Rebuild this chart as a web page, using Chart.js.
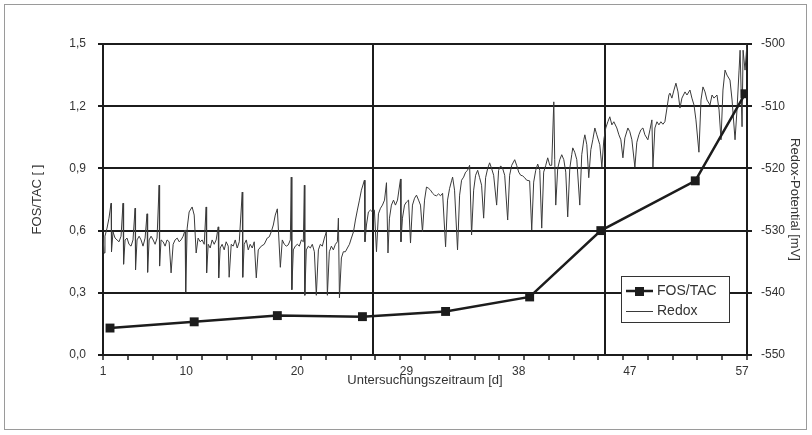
<!DOCTYPE html>
<html>
<head>
<meta charset="utf-8">
<script src="https://cdn.jsdelivr.net/npm/chart.js@4.4.0/dist/chart.umd.min.js"></script>
<style>
  html, body { margin: 0; padding: 0; background: #fff; }
  #wrap { width: 812px; height: 435px; position: relative; }
</style>
</head>
<body>
<div id="wrap"><canvas id="chart" width="812" height="435"></canvas></div>
<script>
// FOS/TAC Messwerte (linke Achse)
const fosTacDays = [1.61, 8.93, 16.16, 23.56, 30.79, 38.10, 44.29, 52.50, 56.83];
const fosTacValues = [0.13, 0.16, 0.19, 0.185, 0.21, 0.28, 0.60, 0.84, 1.26];

// Redox-Potential (rechte Achse)
const redoxDays = [
  1.00, 1.09, 1.17, 1.35, 1.52, 1.70, 1.74, 1.87, 2.05, 2.22, 2.39, 2.57, 2.74, 2.79, 2.92, 3.09, 3.26, 3.44, 3.61, 3.79,
  3.83, 3.96, 4.14, 4.31, 4.48, 4.66, 4.83, 4.88, 5.01, 5.18, 5.36, 5.53, 5.70, 5.88, 5.92, 6.05, 6.23, 6.40, 6.57, 6.75,
  6.92, 7.10, 7.27, 7.45, 7.62, 7.79, 7.97, 8.14, 8.19, 8.32, 8.49, 8.75, 8.93, 9.10, 9.27, 9.45, 9.62, 9.80, 9.97, 10.01,
  10.15, 10.32, 10.49, 10.67, 10.84, 11.02, 11.06, 11.19, 11.36, 11.54, 11.71, 11.89, 11.97, 12.15, 12.32, 12.50, 12.67, 12.85, 13.11, 13.15,
  13.28, 13.46, 13.63, 13.80, 13.98, 14.15, 14.33, 14.50, 14.76, 15.02, 15.28, 15.46, 15.63, 15.81, 15.98, 16.16, 16.42, 16.59, 16.77, 16.94,
  17.11, 17.29, 17.37, 17.42, 17.55, 17.72, 17.90, 18.07, 18.25, 18.42, 18.51, 18.55, 18.68, 18.86, 19.03, 19.20, 19.38, 19.55, 19.73, 19.90,
  20.07, 20.25, 20.42, 20.51, 20.68, 20.86, 21.03, 21.21, 21.38, 21.47, 21.56, 21.73, 21.90, 22.08, 22.25, 22.43, 22.60, 22.78, 22.95, 23.12,
  23.30, 23.47, 23.73, 23.78, 23.91, 24.08, 24.26, 24.43, 24.60, 24.78, 24.95, 25.13, 25.30, 25.48, 25.65, 25.78, 25.91, 26.08, 26.26, 26.43,
  26.61, 26.87, 26.91, 27.04, 27.22, 27.39, 27.57, 27.74, 27.91, 28.09, 28.26, 28.44, 28.61, 28.78, 28.96, 29.13, 29.31, 29.48, 29.66, 29.83,
  30.00, 30.18, 30.35, 30.53, 30.79, 30.96, 31.14, 31.31, 31.40, 31.57, 31.83, 32.01, 32.18, 32.36, 32.53, 32.70, 32.88, 33.05, 33.23, 33.40,
  33.58, 33.75, 33.92, 34.10, 34.27, 34.45, 34.62, 34.79, 34.97, 35.23, 35.40, 35.58, 35.75, 35.93, 36.19, 36.36, 36.54, 36.80, 36.97, 37.15,
  37.32, 37.49, 37.67, 37.84, 38.10, 38.28, 38.45, 38.63, 38.80, 38.98, 39.15, 39.32, 39.50, 39.67, 39.85, 40.02, 40.20, 40.28, 40.37, 40.54,
  40.72, 40.89, 41.07, 41.24, 41.41, 41.59, 41.76, 41.85, 42.02, 42.20, 42.46, 42.63, 42.81, 42.90, 43.07, 43.24, 43.42, 43.59, 43.77, 43.94,
  44.20, 44.38, 44.55, 44.72, 44.90, 45.07, 45.25, 45.42, 45.68, 45.86, 46.03, 46.21, 46.38, 46.64, 46.81, 46.99, 47.25, 47.42, 47.60, 47.77,
  47.95, 48.12, 48.38, 48.56, 48.73, 48.82, 48.99, 49.17, 49.34, 49.51, 49.69, 49.86, 50.04, 50.21, 50.30, 50.47, 50.65, 50.82, 51.00, 51.17,
  51.34, 51.61, 51.78, 52.04, 52.21, 52.39, 52.56, 52.82, 53.00, 53.17, 53.35, 53.52, 53.78, 53.96, 54.13, 54.39, 54.57, 54.74, 54.91, 55.09,
  55.26, 55.52, 55.70, 55.96, 56.13, 56.31, 56.40, 56.57, 56.66, 56.83, 57.00
];
const redoxMv = [
  -531.0, -533.6, -530.9, -529.6, -528.0, -525.6, -533.4, -530.2, -531.2, -531.5, -531.8, -530.9, -525.6, -535.4, -531.5, -531.2, -532.2, -532.5, -531.5, -526.4,
  -536.3, -531.5, -530.9, -531.5, -532.5, -531.2, -527.3, -536.7, -531.5, -530.9, -531.5, -532.2, -531.2, -522.7, -535.7, -531.5, -531.8, -532.5, -531.5, -531.8,
  -536.8, -532.2, -531.5, -531.2, -531.8, -531.5, -530.9, -529.9, -539.9, -529.6, -527.0, -526.2, -527.5, -533.6, -531.2, -531.8, -531.5, -532.2, -526.2, -536.8,
  -532.2, -532.8, -531.5, -532.2, -531.5, -529.4, -537.6, -532.8, -532.2, -533.1, -531.8, -532.5, -537.5, -532.2, -532.5, -531.5, -532.8, -531.8, -523.8, -537.5,
  -532.2, -531.5, -533.1, -532.2, -532.8, -531.8, -537.6, -533.1, -532.5, -532.2, -531.2, -531.0, -530.2, -529.1, -527.5, -526.5, -535.9, -531.5, -532.2, -532.5,
  -532.3, -531.5, -521.4, -539.5, -533.1, -532.5, -532.2, -532.5, -531.5, -531.8, -522.7, -540.4, -533.1, -532.5, -532.8, -532.2, -533.4, -540.4, -533.1, -532.2,
  -532.5, -531.2, -530.2, -540.4, -533.4, -532.5, -533.1, -532.2, -531.8, -528.0, -540.8, -534.4, -533.4, -533.4, -532.8, -532.2, -531.2, -530.2, -528.3, -526.7,
  -525.1, -523.5, -521.9, -531.8, -529.1, -527.0, -526.7, -527.0, -526.7, -533.4, -527.3, -526.4, -525.9, -525.1, -522.3, -533.6, -528.0, -525.9, -525.1, -525.9,
  -525.1, -521.7, -531.8, -528.0, -525.9, -525.4, -525.1, -532.0, -525.9, -524.8, -524.3, -525.1, -525.9, -530.2, -525.1, -523.0, -523.2, -523.5, -524.0, -524.3,
  -524.4, -524.1, -524.4, -524.0, -532.6, -525.1, -523.2, -522.0, -521.4, -523.5, -533.1, -524.3, -521.9, -521.4, -520.6, -520.3, -519.5, -530.7, -523.5, -521.1,
  -520.3, -521.5, -522.7, -528.0, -521.5, -520.0, -519.1, -520.0, -521.1, -525.9, -520.3, -519.6, -520.0, -521.1, -528.3, -521.1, -519.5, -518.6, -519.5, -520.6,
  -521.1, -521.2, -521.5, -521.9, -522.0, -529.9, -522.2, -520.3, -519.3, -520.3, -529.6, -520.6, -519.5, -518.3, -519.5, -519.5, -509.3, -518.6, -525.9, -520.0,
  -518.6, -517.8, -518.6, -520.6, -527.8, -520.0, -517.8, -516.7, -517.4, -518.6, -525.9, -517.8, -515.4, -514.6, -516.2, -521.5, -517.0, -515.4, -513.5, -514.6,
  -516.2, -519.8, -515.4, -513.5, -512.5, -511.7, -513.0, -512.5, -513.5, -514.6, -515.4, -518.3, -515.1, -513.5, -514.1, -515.4, -519.8, -515.8, -514.6, -513.8,
  -513.5, -514.6, -515.4, -513.8, -512.2, -519.8, -513.5, -512.5, -513.0, -512.5, -512.9, -512.5, -510.3, -508.2, -507.9, -508.7, -507.4, -506.3, -507.7, -510.3,
  -508.7, -507.7, -508.2, -507.4, -508.7, -509.8, -512.2, -517.4, -509.0, -506.9, -507.7, -509.0, -509.8, -508.2, -508.7, -508.2, -510.6, -515.4, -507.4, -504.2,
  -505.0, -505.8, -509.0, -515.4, -510.6, -504.2, -501.0, -513.3, -501.0, -504.2, -500.0
];

// Achsenbeschriftung
const xTickLabels = ['1', '10', '20', '29', '38', '47', '57'];
const xTickDays = [1, 8.23, 17.90, 27.39, 37.15, 46.81, 56.57];
const eventDays = [24.47, 44.64];
const minorTickCount = 26;

const dark = '#1c1c1c';
const textColor = '#333333';
const fontFamily = "'Liberation Sans', Arial, sans-serif";

function toComma(v, digits) {
    return v.toFixed(digits).replace('.', ',');
}

const redoxPoints = redoxDays.map((d, i) => ({ x: d, y: redoxMv[i] }));
const fosTacPoints = fosTacDays.map((d, i) => ({ x: d, y: fosTacValues[i] }));

// Rahmen und Legende wie im Original
const frameAndLegend = {
    id: 'frameAndLegend',
    afterDraw(chart) {
        const ctx = chart.ctx;
        ctx.save();
        ctx.strokeStyle = '#9a9a9a';
        ctx.lineWidth = 1;
        ctx.strokeRect(4.5, 4.5, 802, 425);

        const bx = 621, by = 276, bw = 108, bh = 46;
        ctx.fillStyle = '#ffffff';
        ctx.fillRect(bx, by, bw, bh);
        ctx.strokeStyle = '#333333';
        ctx.strokeRect(bx + 0.5, by + 0.5, bw, bh);

        // FOS/TAC
        ctx.strokeStyle = dark;
        ctx.lineWidth = 2.5;
        ctx.beginPath();
        ctx.moveTo(bx + 5, by + 15);
        ctx.lineTo(bx + 32, by + 15);
        ctx.stroke();
        ctx.fillStyle = dark;
        ctx.fillRect(bx + 14, by + 11, 9, 9);
        // Redox
        ctx.lineWidth = 1;
        ctx.strokeStyle = '#3a3a3a';
        ctx.beginPath();
        ctx.moveTo(bx + 5, by + 35.5);
        ctx.lineTo(bx + 32, by + 35.5);
        ctx.stroke();

        ctx.fillStyle = textColor;
        ctx.font = '14px ' + fontFamily;
        ctx.textBaseline = 'middle';
        ctx.fillText('FOS/TAC', bx + 36, by + 15);
        ctx.fillText('Redox', bx + 36, by + 35);
        ctx.restore();
    }
};

const ctx = document.getElementById('chart').getContext('2d');
const chart = new Chart(ctx, {
    type: 'line',
    data: {
        datasets: [{
            label: 'FOS/TAC',
            data: fosTacPoints,
            yAxisID: 'y',
            borderColor: dark,
            backgroundColor: dark,
            borderWidth: 2.5,
            pointStyle: 'rect',
            pointRadius: 6.3,
            pointBorderWidth: 0,
            pointBackgroundColor: dark,
            tension: 0,
            order: 0
        }, {
            label: 'Redox',
            data: redoxPoints,
            yAxisID: 'y1',
            borderColor: '#3a3a3a',
            borderWidth: 1,
            pointRadius: 0,
            tension: 0,
            order: 1
        }]
    },
    options: {
        responsive: false,
        animation: false,
        devicePixelRatio: 1,
        layout: { padding: { top: 44, left: 0, right: 0, bottom: 0 } },
        plugins: {
            legend: { display: false },
            tooltip: { enabled: false }
        },
        scales: {
            x: {
                type: 'linear',
                min: 1,
                max: 57,
                afterBuildTicks: function (scale) {
                    const ticks = [];
                    for (let i = 0; i <= minorTickCount; i++) {
                        ticks.push({ value: 1 + i * 56 / minorTickCount, kind: 'minor' });
                    }
                    xTickDays.forEach((d, i) => ticks.push({ value: d, kind: 'label', text: xTickLabels[i] }));
                    eventDays.forEach(d => ticks.push({ value: d, kind: 'event' }));
                    scale.ticks = ticks;
                },
                afterFit: function (scale) { scale.height = 80; },
                ticks: {
                    autoSkip: false,
                    maxRotation: 0,
                    padding: 4,
                    color: textColor,
                    font: { family: fontFamily, size: 12 },
                    callback: function (value, index, ticks) {
                        return ticks[index].kind === 'label' ? ticks[index].text : '';
                    }
                },
                grid: {
                    drawOnChartArea: true,
                    lineWidth: 2,
                    tickLength: 5,
                    tickWidth: 1.5,
                    color: c => (c.tick && c.tick.kind === 'event') ? dark : 'rgba(0,0,0,0)',
                    tickColor: c => (c.tick && c.tick.kind === 'minor') ? dark : 'rgba(0,0,0,0)'
                },
                border: { display: true, color: dark, width: 2 },
                title: {
                    display: true,
                    text: 'Untersuchungszeitraum [d]',
                    color: textColor,
                    font: { family: fontFamily, size: 13 },
                    padding: { top: 0, bottom: 47 }
                }
            },
            y: {
                position: 'left',
                min: 0,
                max: 1.5,
                afterBuildTicks: function (scale) {
                    scale.ticks = [0, 0.3, 0.6, 0.9, 1.2, 1.5].map(v => ({ value: v }));
                },
                afterFit: function (scale) { scale.width = 103; },
                ticks: {
                    padding: 12,
                    color: textColor,
                    font: { family: fontFamily, size: 12 },
                    callback: v => toComma(v, 1)
                },
                grid: { color: dark, lineWidth: 2, tickLength: 5 },
                border: { display: true, color: dark, width: 2 },
                title: {
                    display: true,
                    text: 'FOS/TAC [ ]',
                    color: textColor,
                    font: { family: fontFamily, size: 13 },
                    padding: { top: 30, bottom: 0 }
                }
            },
            y1: {
                position: 'right',
                min: -550,
                max: -500,
                afterBuildTicks: function (scale) {
                    scale.ticks = [-550, -540, -530, -520, -510, -500].map(v => ({ value: v }));
                },
                afterFit: function (scale) { scale.width = 65; },
                ticks: {
                    padding: 9,
                    color: textColor,
                    font: { family: fontFamily, size: 12 },
                    callback: v => String(v)
                },
                grid: { drawOnChartArea: false, color: dark, lineWidth: 2, tickLength: 5 },
                border: { display: true, color: dark, width: 2 },
                title: {
                    display: true,
                    text: 'Redox-Potential [mV]',
                    color: textColor,
                    font: { family: fontFamily, size: 13 },
                    padding: { top: 10, bottom: 0 }
                }
            }
        }
    },
    plugins: [frameAndLegend]
});
</script>
</body>
</html>
